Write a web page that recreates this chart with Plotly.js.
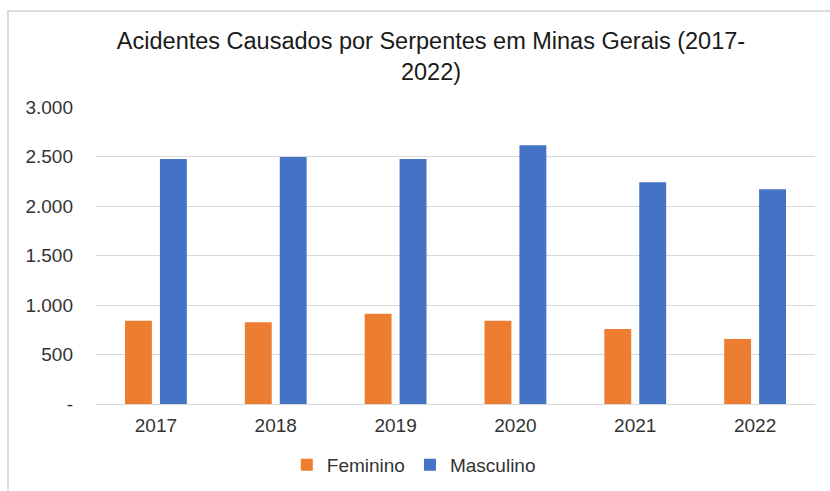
<!DOCTYPE html>
<html>
<head>
<meta charset="utf-8">
<script src="https://cdn.plot.ly/plotly-3.0.1.min.js"></script>
<style>
  html, body { margin: 0; padding: 0; background: #fff; }
  #wrap { position: relative; width: 830px; height: 491px; }
  #chart { position: absolute; left: 0; top: 0; width: 830px; height: 491px; }
  #frame { position: absolute; left: 7px; top: 10px; width: 823px; height: 481px;
           border-left: 2px solid #dcdcdc; border-top: 2px solid #dcdcdc; pointer-events: none; }
</style>
</head>
<body>
<div id="wrap">
  <div id="chart"></div>
  <div id="frame"></div>
</div>
<script>
const years = ['2017', '2018', '2019', '2020', '2021', '2022'];
const feminino = [842, 826, 912, 842, 758, 657];
const masculino = [2476, 2495, 2476, 2613, 2240, 2170];
const tickVals = [0, 500, 1000, 1500, 2000, 2500, 3000];
const tickText = ['-', '500', '1.000', '1.500', '2.000', '2.500', '3.000'];

const traces = [
  { type: 'bar', name: 'Feminino', x: years, y: feminino,
    marker: { color: '#ED7D31' }, hoverinfo: 'x+y' },
  { type: 'bar', name: 'Masculino', x: years, y: masculino,
    marker: { color: '#4472C4' }, hoverinfo: 'x+y' }
];

const layout = {
  width: 830, height: 491,
  margin: { l: 96, r: 15, t: 107, b: 87, autoexpand: false },
  paper_bgcolor: '#ffffff', plot_bgcolor: '#ffffff',
  font: { family: 'Liberation Sans, Arial, sans-serif', color: '#333333' },
  title: {
    text: 'Acidentes Causados por Serpentes em Minas Gerais (2017-<br>2022)',
    font: { family: 'Liberation Sans, Arial, sans-serif', size: 23.5, color: '#1a1a1a' },
    x: 431 / 830, xref: 'container', xanchor: 'center',
    y: 1 - 49 / 491, yref: 'container', yanchor: 'top'
  },
  barmode: 'group',
  bargap: 0.417,
  bargroupgap: 0.23,
  xaxis: {
    type: 'category',
    tickfont: { size: 19, color: '#333333' },
    showline: true, linecolor: '#d9d9d9', linewidth: 1,
    ticks: '', showgrid: false, zeroline: false, ticklabelstandoff: 4
  },
  yaxis: {
    range: [0, 3000],
    tickvals: tickVals, ticktext: tickText,
    tickfont: { size: 19, color: '#333333' },
    showgrid: true, gridcolor: '#d9d9d9', gridwidth: 1,
    zeroline: false, showline: false, ticks: '', ticklabelstandoff: 22
  },
  showlegend: true,
  legend: {
    orientation: 'h', x: 0.442, xanchor: 'center', y: -0.205, yanchor: 'middle',
    font: { size: 19, color: '#333333' }, itemwidth: 30, traceorder: 'normal'
  }
};

Plotly.newPlot('chart', traces, layout, { displayModeBar: false, staticPlot: true });
</script>
</body>
</html>
